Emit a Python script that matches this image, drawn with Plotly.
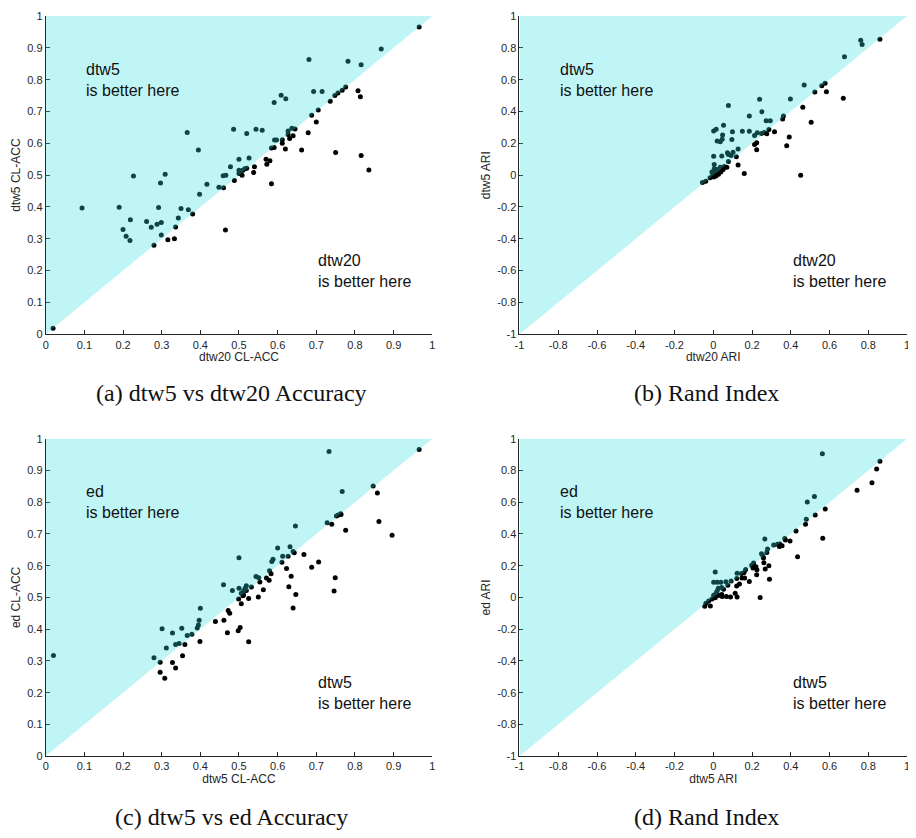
import plotly.graph_objects as go

# ---------------- data ----------------
# (a) accuracy: dtw20 (x) vs dtw5 (y)
acc_dtw20 = [0.019, 0.094, 0.190, 0.200, 0.208, 0.218, 0.219, 0.227, 0.261, 0.273,
             0.280, 0.288, 0.292, 0.297, 0.299, 0.299, 0.309, 0.316, 0.333, 0.336,
             0.343, 0.350, 0.366, 0.369, 0.380, 0.395, 0.398, 0.417, 0.448, 0.460,
             0.459, 0.466, 0.465, 0.478, 0.486, 0.488, 0.500, 0.500, 0.500, 0.505,
             0.510, 0.515, 0.520, 0.508, 0.520, 0.526, 0.538, 0.540, 0.544, 0.560,
             0.570, 0.572, 0.580, 0.584, 0.584, 0.591, 0.591, 0.592, 0.597, 0.609,
             0.612, 0.612, 0.620, 0.621, 0.627, 0.627, 0.631, 0.637, 0.640, 0.645,
             0.662, 0.679, 0.681, 0.688, 0.693, 0.700, 0.705, 0.715, 0.736, 0.748,
             0.750, 0.756, 0.767, 0.776, 0.782, 0.808, 0.814, 0.816, 0.816, 0.836,
             0.868, 0.966]
acc_dtw5_a = [0.019, 0.397, 0.399, 0.329, 0.308, 0.295, 0.360, 0.497, 0.354, 0.336,
              0.280, 0.346, 0.398, 0.475, 0.351, 0.312, 0.503, 0.297, 0.300, 0.337,
              0.365, 0.395, 0.634, 0.391, 0.378, 0.579, 0.440, 0.471, 0.462, 0.460,
              0.498, 0.500, 0.328, 0.526, 0.644, 0.483, 0.550, 0.515, 0.505, 0.510,
              0.515, 0.520, 0.522, 0.500, 0.631, 0.554, 0.508, 0.526, 0.644, 0.641,
              0.550, 0.534, 0.545, 0.473, 0.585, 0.728, 0.587, 0.610, 0.610, 0.751,
              0.611, 0.600, 0.582, 0.740, 0.639, 0.628, 0.615, 0.647, 0.624, 0.645,
              0.579, 0.633, 0.863, 0.688, 0.763, 0.667, 0.705, 0.763, 0.732, 0.750,
              0.571, 0.758, 0.767, 0.777, 0.858, 0.765, 0.746, 0.847, 0.562, 0.516,
              0.896, 0.965]

# (b) ARI: dtw20 (x) vs dtw5 (y)
ari_dtw20 = [0.860, 0.761, 0.768, 0.677, 0.469, 0.560, 0.577, 0.524, 0.584, 0.671,
             0.462, 0.398, 0.239, 0.078, 0.251, 0.186, 0.362, 0.358, 0.505, 0.273,
             0.294, 0.053, 0.002, 0.015, 0.048, 0.099, 0.150, 0.186, 0.213, 0.227,
             0.249, 0.263, 0.287, 0.316, 0.276, 0.392, 0.020, 0.036, 0.046, 0.096,
             0.213, 0.224, 0.224, 0.379, 0.128, 0.102, 0.073, 0.078, 0.092, 0.044,
             0.002, 0.119, 0.078, 0.128, 0.160, 0.451, 0.005, -0.056, -0.039, -0.017,
             -0.007, 0.005, 0.019, 0.036, 0.056, 0.070, 0.002, 0.014, 0.027, 0.039,
             0.051, -0.003, 0.007, 0.010]
ari_dtw5_b = [0.854, 0.847, 0.820, 0.744, 0.566, 0.562, 0.578, 0.522, 0.524, 0.483,
              0.426, 0.479, 0.477, 0.438, 0.398, 0.371, 0.371, 0.353, 0.332, 0.342,
              0.342, 0.313, 0.278, 0.289, 0.252, 0.272, 0.276, 0.276, 0.249, 0.266,
              0.261, 0.268, 0.287, 0.272, 0.260, 0.240, 0.215, 0.209, 0.226, 0.224,
              0.193, 0.203, 0.160, 0.185, 0.164, 0.143, 0.140, 0.129, 0.123, 0.121,
              0.119, 0.115, 0.085, 0.063, 0.011, -0.001, 0.067, -0.047, -0.039, -0.016,
              0.019, 0.040, 0.036, 0.050, 0.055, 0.049, -0.011, -0.005, 0.005, 0.019,
              0.036, 0.001, 0.013, 0.030]

# (c) accuracy: dtw5 (x) vs ed (y)
acc_dtw5_c = [0.020, 0.280, 0.296, 0.296, 0.301, 0.308, 0.312, 0.328, 0.328, 0.336,
              0.336, 0.345, 0.352, 0.354, 0.360, 0.366, 0.378, 0.392, 0.395, 0.397,
              0.400, 0.399, 0.439, 0.460, 0.461, 0.470, 0.472, 0.476, 0.483, 0.500,
              0.500, 0.498, 0.503, 0.506, 0.499, 0.506, 0.512, 0.516, 0.519, 0.510,
              0.519, 0.512, 0.525, 0.525, 0.532, 0.544, 0.551, 0.550, 0.554, 0.563,
              0.571, 0.578, 0.579, 0.583, 0.585, 0.588, 0.600, 0.611, 0.613, 0.623,
              0.627, 0.632, 0.629, 0.635, 0.640, 0.643, 0.646, 0.640, 0.647, 0.668,
              0.688, 0.706, 0.728, 0.733, 0.740, 0.746, 0.749, 0.752, 0.757, 0.763,
              0.764, 0.767, 0.776, 0.847, 0.858, 0.862, 0.896, 0.966]
acc_ed_c = [0.317, 0.310, 0.296, 0.264, 0.401, 0.245, 0.341, 0.388, 0.295, 0.278,
            0.352, 0.355, 0.403, 0.316, 0.352, 0.380, 0.384, 0.404, 0.413, 0.428,
            0.466, 0.361, 0.424, 0.540, 0.428, 0.389, 0.459, 0.450, 0.522, 0.625,
            0.529, 0.395, 0.405, 0.480, 0.495, 0.513, 0.521, 0.529, 0.537, 0.505,
            0.522, 0.508, 0.497, 0.360, 0.533, 0.566, 0.562, 0.501, 0.549, 0.524,
            0.561, 0.554, 0.584, 0.575, 0.613, 0.620, 0.656, 0.611, 0.630, 0.591,
            0.630, 0.660, 0.534, 0.567, 0.645, 0.641, 0.725, 0.467, 0.509, 0.635,
            0.595, 0.612, 0.735, 0.960, 0.731, 0.520, 0.562, 0.757, 0.760, 0.764,
            0.761, 0.834, 0.712, 0.851, 0.829, 0.739, 0.696, 0.966]

# (d) ARI: dtw5 (x) vs ed (y)
ari_dtw5_d = [0.563, 0.860, 0.843, 0.819, 0.742, 0.522, 0.485, 0.578, 0.526, 0.480,
              0.476, 0.427, 0.565, 0.369, 0.372, 0.396, 0.266, 0.280, 0.312, 0.331,
              0.343, 0.341, 0.355, 0.276, 0.249, 0.256, 0.259, 0.261, 0.435, 0.208,
              0.198, 0.205, 0.220, 0.225, 0.268, 0.287, 0.290, 0.224, 0.159, 0.167,
              0.145, 0.123, 0.121, 0.148, 0.162, 0.186, 0.135, 0.121, 0.113, 0.123,
              0.242, 0.010, 0.002, 0.020, 0.039, 0.065, 0.092, 0.075, 0.026, 0.043,
              0.053, 0.020, 0.014, 0.002, 0.044, 0.046, 0.068, 0.089, 0.010, -0.007,
              -0.024, -0.038, -0.044, -0.015, 0.027]
ari_ed_d = [0.905, 0.859, 0.810, 0.723, 0.675, 0.636, 0.602, 0.557, 0.520, 0.493,
            0.462, 0.418, 0.373, 0.371, 0.362, 0.356, 0.369, 0.306, 0.331, 0.335,
            0.337, 0.321, 0.325, 0.284, 0.275, 0.261, 0.248, 0.219, 0.257, 0.217,
            0.203, 0.186, 0.193, 0.174, 0.180, 0.199, 0.114, 0.143, 0.157, 0.176,
            0.151, 0.153, 0.120, 0.122, 0.122, 0.101, 0.085, 0.072, 0.027, 0.002,
            0.000, 0.161, 0.095, 0.095, 0.095, 0.099, 0.104, 0.077, 0.058, 0.062,
            0.052, 0.041, 0.027, 0.014, 0.019, 0.006, 0.006, 0.002, -0.002, -0.010,
            -0.023, -0.037, -0.056, -0.054, 0.012]

acc_ticks = [0, 0.1, 0.2, 0.3, 0.4, 0.5, 0.6, 0.7, 0.8, 0.9, 1]
acc_ticktext = ["0", "0.1", "0.2", "0.3", "0.4", "0.5", "0.6", "0.7", "0.8", "0.9", "1"]
ari_ticks = [-1, -0.8, -0.6, -0.4, -0.2, 0, 0.2, 0.4, 0.6, 0.8, 1]
ari_ticktext = ["-1", "-0.8", "-0.6", "-0.4", "-0.2", "0", "0.2", "0.4", "0.6", "0.8", "1"]

panels = [
    dict(x=acc_dtw20, y=acc_dtw5_a, xt="dtw20 CL-ACC", yt="dtw5 CL-ACC",
         up="dtw5", low="dtw20", rng=(0, 1), ticks=acc_ticks, tt=acc_ticktext,
         cap="(a) dtw5 vs dtw20 Accuracy"),
    dict(x=ari_dtw20, y=ari_dtw5_b, xt="dtw20 ARI", yt="dtw5 ARI",
         up="dtw5", low="dtw20", rng=(-1, 1), ticks=ari_ticks, tt=ari_ticktext,
         cap="(b) Rand Index"),
    dict(x=acc_dtw5_c, y=acc_ed_c, xt="dtw5 CL-ACC", yt="ed CL-ACC",
         up="ed", low="dtw5", rng=(0, 1), ticks=acc_ticks, tt=acc_ticktext,
         cap="(c) dtw5 vs ed Accuracy"),
    dict(x=ari_dtw5_d, y=ari_ed_d, xt="dtw5 ARI", yt="ed ARI",
         up="ed", low="dtw5", rng=(-1, 1), ticks=ari_ticks, tt=ari_ticktext,
         cap="(d) Rand Index"),
]

# ---------------- layout geometry (page pixels) ----------------
PAGE_W, PAGE_H = 916, 838
OFF = 8                      # default page body margin
W, H = PAGE_W - OFF, PAGE_H - OFF
col_px = [(41, 431), (519, 910)]
row_px = [(10, 333), (439, 761)]
cap_x_px = [228, 708]
cap_y_px = [393, 823]

def fx(px):
    return min(1.0, max(0.0, (px - OFF) / W))

def fy(py):
    return min(1.0, max(0.0, 1 - (py - OFF) / H))

fig = go.Figure()
layout = dict(width=W, height=H, margin=dict(l=0, r=0, t=0, b=0),
              paper_bgcolor="white", plot_bgcolor="white", showlegend=False,
              annotations=[])

axis_color = "#262626"
tick_font = dict(family="Liberation Sans, Arial", size=11, color=axis_color)
title_font = dict(family="Liberation Sans, Arial", size=12, color=axis_color)
text_font = dict(family="Liberation Sans, Arial", size=16, color="#111111")
cap_font = dict(family="Liberation Serif, Times New Roman, serif", size=24, color="#111111")

for i, p in enumerate(panels):
    r, c = divmod(i, 2)
    n = i + 1
    xa = "x" if n == 1 else f"x{n}"
    ya = "y" if n == 1 else f"y{n}"
    xk = "xaxis" if n == 1 else f"xaxis{n}"
    yk = "yaxis" if n == 1 else f"yaxis{n}"
    x0, x1 = col_px[c]
    y0, y1 = row_px[r]
    lo, hi = p["rng"]

    # points
    fig.add_trace(go.Scatter(x=p["x"], y=p["y"], mode="markers", xaxis=xa, yaxis=ya,
                             marker=dict(size=5, color="black", line=dict(width=0)),
                             hoverinfo="skip"))
    # translucent region where the y-method is better (above the diagonal)
    fig.add_trace(go.Scatter(x=[lo, lo, hi, lo], y=[lo, hi, hi, lo], mode="lines",
                             xaxis=xa, yaxis=ya, fill="toself",
                             fillcolor="rgba(49,222,222,0.306)",
                             line=dict(width=0), hoverinfo="skip"))

    common = dict(range=[lo, hi], tickmode="array", tickvals=p["ticks"], ticktext=p["tt"],
                  showgrid=False, zeroline=False, showline=True, linecolor=axis_color,
                  linewidth=1, ticks="inside", ticklen=4, tickcolor=axis_color,
                  tickfont=tick_font, layer="below traces", fixedrange=True)
    layout[xk] = dict(common, domain=[fx(x0), fx(x1)], anchor=ya,
                      title=dict(text=p["xt"], font=title_font, standoff=2))
    layout[yk] = dict(common, domain=[fy(y1), fy(y0)], anchor=xa,
                      title=dict(text=p["yt"], font=title_font, standoff=4))

    span = hi - lo
    layout["annotations"].append(dict(
        x=lo + 0.1 * span, y=lo + 0.8 * span, xref=xa, yref=ya,
        text=f"{p['up']}<br>is better here", showarrow=False, xanchor="left",
        yanchor="middle", align="left", font=text_font))
    layout["annotations"].append(dict(
        x=lo + 0.7 * span, y=lo + 0.2 * span, xref=xa, yref=ya,
        text=f"{p['low']}<br>is better here", showarrow=False, xanchor="left",
        yanchor="middle", align="left", font=text_font))
    layout["annotations"].append(dict(
        x=fx(cap_x_px[c]), y=fy(cap_y_px[r]), xref="paper", yref="paper",
        text=p["cap"], showarrow=False, xanchor="center", yanchor="middle",
        font=cap_font))

fig.update_layout(**layout)
fig.write_html("out.html")
